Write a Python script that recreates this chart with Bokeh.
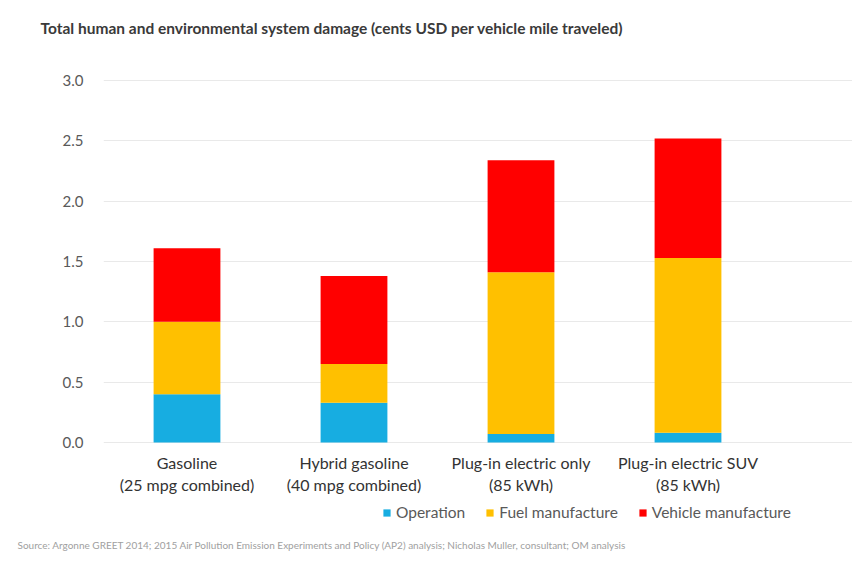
from bokeh.plotting import figure
from bokeh.models import ColumnDataSource, Range1d, FixedTicker, Title, Legend, LegendItem
from bokeh.embed import file_html
from bokeh.resources import INLINE

categories = ["Gasoline\n(25 mpg combined)", "Hybrid gasoline\n(40 mpg combined)",
              "Plug-in electric only\n(85 kWh)", "Plug-in electric SUV\n(85 kWh)"]
operation = [0.40, 0.33, 0.07, 0.08]
fuel_manufacture = [0.60, 0.32, 1.34, 1.45]
vehicle_manufacture = [0.61, 0.73, 0.93, 0.99]
series_names = ["Operation", "Fuel manufacture", "Vehicle manufacture"]
colors = ["#17ADE1", "#FFC000", "#FF0000"]
y_ticks = [0.0, 0.5, 1.0, 1.5, 2.0, 2.5, 3.0]
title_text = "Total human and environmental system damage (cents USD per vehicle mile traveled)"
source_text = ("Source: Argonne GREET 2014; 2015 Air Pollution Emission Experiments and Policy (AP2) "
               "analysis; Nicholas Muller, consultant; OM analysis")

xpos = [i + 0.5 for i in range(len(categories))]
src = ColumnDataSource(dict(x=xpos, op=operation, fuel=fuel_manufacture, veh=vehicle_manufacture))

FONT = "Lato"
PX_X = 167.0          # pixels per category
PX_Y = 362.0 / 3.0    # pixels per y unit
TOP, LEFT, BOTTOM, ZERO = 40, 103, 534, 442
W, H = 852, 558

p = figure(width=W, height=H, output_backend="svg", toolbar_location=None,
           x_range=Range1d(0, (W - LEFT) / PX_X),
           y_range=Range1d(-(BOTTOM - ZERO) / PX_Y, (ZERO - TOP) / PX_Y),
           min_border_left=LEFT, min_border_right=0, min_border_top=TOP,
           min_border_bottom=H - BOTTOM)
p.outline_line_color = None
p.background_fill_color = "white"
p.border_fill_color = "white"

rs = p.vbar_stack(["op", "fuel", "veh"], x="x", width=0.40, source=src,
                  color=colors, line_color=None)

p.xgrid.grid_line_color = None
p.ygrid.grid_line_color = "#e9e9e9"
p.ygrid.grid_line_width = 1
p.yaxis.ticker = FixedTicker(ticks=y_ticks)
p.yaxis.major_label_overrides = {t: f"{t:.1f}" for t in y_ticks}
p.xaxis.ticker = FixedTicker(ticks=xpos)
p.xaxis.major_label_overrides = {x: c for x, c in zip(xpos, categories)}
p.xaxis.fixed_location = 0
for ax in (p.xaxis, p.yaxis):
    ax.axis_line_color = None
    ax.major_tick_line_color = None
    ax.minor_tick_line_color = None
    ax.major_tick_out = 0
    ax.major_tick_in = 0
    ax.major_label_text_font = FONT
p.yaxis.major_label_text_font_size = "15px"
p.yaxis.major_label_text_color = "#595959"
p.yaxis.major_label_standoff = 20
p.xaxis.major_label_text_font_size = "16px"
p.xaxis.major_label_text_color = "#333333"
p.xaxis.major_label_standoff = 10

legend = Legend(items=[LegendItem(label=n, renderers=[r]) for n, r in zip(series_names, rs)],
                orientation="horizontal", location=(279, 13),
                glyph_width=9, glyph_height=9, label_standoff=5, spacing=20,
                padding=0, margin=0, border_line_color=None, background_fill_alpha=0,
                label_text_font=FONT, label_text_font_size="15.5px", label_text_color="#595959")
p.add_layout(legend, "center")

p.add_layout(Title(text=title_text, align="left", offset=-63, standoff=8,
                   text_font=FONT, text_font_size="15.5px", text_font_style="bold",
                   text_color="#3a3a3a"), "above")
p.add_layout(Title(text=source_text, align="left", offset=-86, standoff=5,
                   text_font=FONT, text_font_size="10px", text_font_style="normal",
                   text_color="#a0a0a0"), "below")

open("out.html", "w").write(file_html(p, INLINE))
